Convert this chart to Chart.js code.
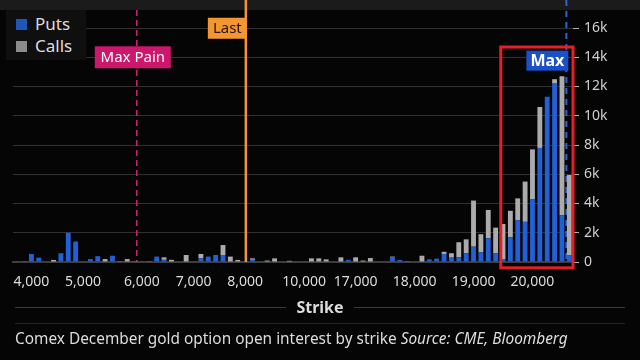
<!DOCTYPE html>
<html>
<head>
<meta charset="utf-8">
<script src="https://cdn.jsdelivr.net/npm/chart.js@4"></script>
<style>
  html, body { margin: 0; padding: 0; background: #050505; }
  body { width: 640px; height: 360px; position: relative; overflow: hidden; font-family: "Noto Sans", sans-serif; color: #ddd; }
  .topband { position: absolute; left: 0; top: 0; width: 640px; height: 10px; background: #1b1b1b; }
  .wrap { position: absolute; left: 0; top: 0; width: 640px; height: 300px; }
  .legend { position: absolute; left: 6px; top: 10px; padding: 3px 14px 3px 10px; background: #0f0f0f; font-size: 17px; line-height: 22px; color: #ddd; }
  .legend .sw { display: inline-block; width: 11px; height: 11px; margin-right: 8px; }
  .axis-title { position: absolute; left: 15px; top: 296px; width: 610px; display: flex; align-items: center; font-weight: bold; font-size: 16px; color: #ddd; }
  .axis-title .rule { flex: 1; height: 1px; background: #3a3a3a; }
  .axis-title span { padding: 0 10px; }
  .sep { position: absolute; left: 15px; top: 323px; width: 610px; height: 1px; background: #262626; }
  .caption { position: absolute; left: 15px; top: 328px; font-size: 15.4px; color: #ddd; white-space: nowrap; }
</style>
</head>
<body>
<div class="topband"></div>
<div class="wrap"><canvas id="chart"></canvas></div>
<div class="legend">
  <div><span class="sw" style="background:#1f56b8"></span>Puts</div>
  <div><span class="sw" style="background:#8c8c8c"></span>Calls</div>
</div>
<div class="axis-title"><div class="rule"></div><span>Strike</span><div class="rule"></div></div>
<div class="sep"></div>
<div class="caption">Comex December gold option open interest by strike <i>Source: CME, Bloomberg</i></div>

<script>
// open interest per strike, left to right
const puts = [
  50, 70, 550, 300, 0, 0, 600, 2000, 1400, 0,
  200, 400, 0, 430, 0, 0, 0, 50, 0, 370,
  150, 0, 0, 0, 0, 250, 370, 480, 480, 0,
  0, 0, 150, 30, 0, 0, 0, 0, 30, 30,
  0, 0, 0, 0, 0, 150, 0, 0, 0, 0,
  0, 300, 140, 0, 0, 0, 180, 230, 550, 300,
  320, 600, 1050, 660, 1620, 600, 200, 1700, 2850, 2750,
  4300, 7800, 11300, 12200, 3200, 450
];
const calls = [
  0, 0, 0, 0, 0, 140, 0, 0, 0, 0,
  0, 0, 200, 0, 50, 200, 50, 0, 50, 0,
  170, 150, 0, 480, 0, 300, 0, 0, 680, 370,
  140, 0, 100, 0, 100, 250, 0, 80, 0, 0,
  250, 250, 180, 0, 320, 0, 320, 100, 270, 0,
  0, 70, 0, 50, 0, 430, 0, 0, 150, 300,
  1030, 950, 3150, 1240, 1940, 1750, 2400, 1800, 1500, 2750,
  3400, 2800, 0, 300, 9500, 5500
];
const tickLabels = ['4,000', '5,000', '6,000', '7,000', '8,000', '10,000', '17,000', '18,000', '19,000', '20,000'];
const tickIndex = [2, 9, 17, 24, 31, 39, 46, 54, 62, 70];

// marker positions, in strike slots
const maxPainAt = 16.3;
const lastAt = 31.1;
const maxAt = 74.6;
const maxBoxFrom = 65.7;
const maxBoxTo = 75.5;

const categories = puts.map((_, i) => i);

const markers = {
  id: 'markers',
  beforeDatasetsDraw(chart) {
    const { ctx, scales: { x, y } } = chart;
    const base = y.getPixelForValue(0);
    ctx.save();
    // max dashed line
    const mx = x.getPixelForValue(maxAt);
    ctx.strokeStyle = '#2b63d6';
    ctx.lineWidth = 2;
    ctx.setLineDash([6, 5]);
    ctx.beginPath();
    ctx.moveTo(mx, 0);
    ctx.lineTo(mx, base);
    ctx.stroke();
    // max pain dashed line
    const px = x.getPixelForValue(maxPainAt);
    ctx.strokeStyle = '#d81f72';
    ctx.lineWidth = 1.5;
    ctx.setLineDash([6, 4]);
    ctx.beginPath();
    ctx.moveTo(px, 10);
    ctx.lineTo(px, base);
    ctx.stroke();
    ctx.restore();
  },
  afterDatasetsDraw(chart) {
    const { ctx, scales: { x, y } } = chart;
    const base = y.getPixelForValue(0);
    ctx.save();
    ctx.font = '15px "Noto Sans"';
    ctx.textBaseline = 'middle';
    ctx.textAlign = 'center';

    // last price line
    const lx = x.getPixelForValue(lastAt);
    ctx.strokeStyle = '#f39531';
    ctx.lineWidth = 2.5;
    ctx.beginPath();
    ctx.moveTo(lx, 0);
    ctx.lineTo(lx, base);
    ctx.stroke();
    const lt = y.getPixelForValue(16700);
    ctx.fillStyle = '#f39531';
    ctx.fillRect(lx - 38, lt, 39, 21);
    ctx.fillStyle = '#2a1606';
    ctx.fillText('Last', lx - 18.5, lt + 11);

    // max pain label
    const px = x.getPixelForValue(maxPainAt);
    const pt = y.getPixelForValue(14750);
    ctx.fillStyle = '#cc176c';
    ctx.fillRect(px - 42, pt, 76, 22);
    ctx.fillStyle = '#ffffff';
    ctx.fillText('Max Pain', px - 4, pt + 11.5);

    // red box around the max region
    const bx1 = x.getPixelForValue(maxBoxFrom);
    const bx2 = x.getPixelForValue(maxBoxTo);
    const by1 = y.getPixelForValue(14700);
    const by2 = y.getPixelForValue(-400);
    ctx.strokeStyle = '#e3202a';
    ctx.lineWidth = 3;
    ctx.strokeRect(bx1, by1, bx2 - bx1, by2 - by1);

    // max label
    const mx = x.getPixelForValue(maxAt);
    const mt = y.getPixelForValue(14450);
    ctx.fillStyle = '#1a50c8';
    ctx.fillRect(mx - 40, mt, 42, 20);
    ctx.fillStyle = '#ffffff';
    ctx.font = 'bold 16px "Noto Sans"';
    ctx.fillText('Max', mx - 19, mt + 10.5);
    ctx.restore();
  }
};

new Chart(document.getElementById('chart'), {
  type: 'bar',
  data: {
    labels: categories,
    datasets: [
      { label: 'Puts', data: puts, backgroundColor: '#2160d6', stack: 's' },
      { label: 'Calls', data: calls, backgroundColor: '#ababab', stack: 's' }
    ]
  },
  options: {
    responsive: true,
    maintainAspectRatio: false,
    animation: false,
    layout: { padding: { left: 13, right: 0, top: 28, bottom: 0 } },
    datasets: { bar: { barPercentage: 0.66, categoryPercentage: 1 } },
    plugins: {
      legend: { display: false },
      tooltip: { enabled: false }
    },
    scales: {
      x: {
        stacked: true,
        grid: { display: false, drawTicks: false },
        border: { display: true, color: '#3d3d3d', width: 2 },
        ticks: {
          autoSkip: false,
          maxRotation: 0,
          padding: 12,
          color: '#dcdcdc',
          font: { family: 'Noto Sans', size: 14 },
          callback: (v, i) => {
            const k = tickIndex.indexOf(i);
            return k >= 0 ? tickLabels[k] : '';
          }
        },
        afterFit: s => { s.height = 38; s.paddingLeft = 0; s.paddingRight = 0; }
      },
      y: {
        stacked: true,
        position: 'right',
        min: 0,
        max: 16000,
        border: { display: false },
        grid: { color: '#303030', tickColor: '#b0b0b0', tickLength: 6, lineWidth: 1 },
        ticks: {
          stepSize: 2000,
          autoSkip: false,
          padding: 5,
          color: '#d0d0d0',
          font: { family: 'Noto Sans', size: 14 },
          callback: v => v === 0 ? '0' : (v / 1000) + 'k'
        },
        afterFit: s => { s.width = 67; s.paddingTop = 0; s.paddingBottom = 0; }
      }
    }
  },
  plugins: [markers]
});
</script>
</body>
</html>
